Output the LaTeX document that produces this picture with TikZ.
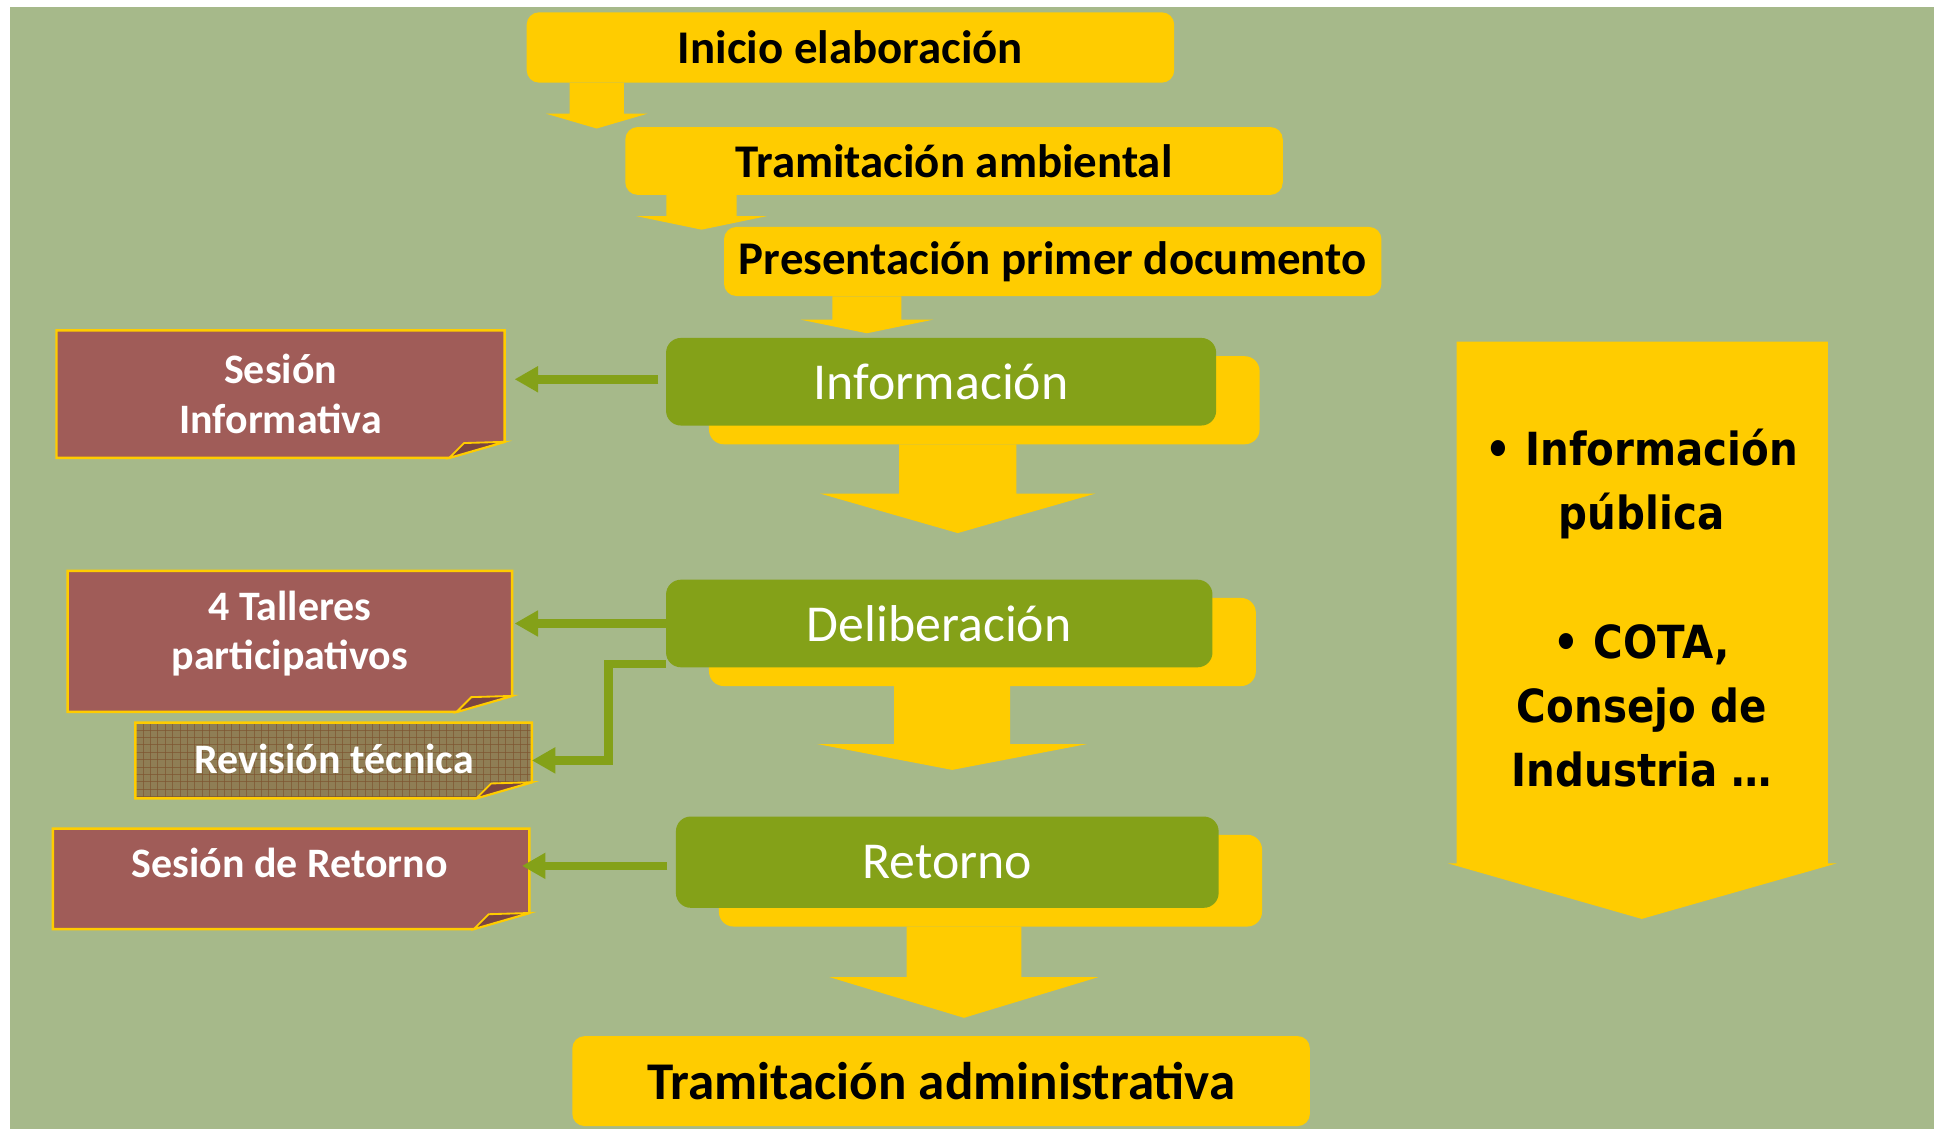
\documentclass[tikz,border=0pt]{standalone}
\usepackage{fontspec}
\setmainfont{Carlito}
\newfontfamily\dvs[FakeStretch=0.885]{DejaVu Sans}
\usetikzlibrary{arrows.meta,calc}
\definecolor{bggreen}{HTML}{A6B98A}
\definecolor{myyellow}{HTML}{FFCC00}
\definecolor{mygreen}{HTML}{84A118}
\definecolor{maroon}{HTML}{A05C58}
\definecolor{folddark}{HTML}{7B4541}
\definecolor{revfill}{HTML}{8F7E55}
\definecolor{revgrid}{HTML}{7E5530}
\pgfdeclarelayer{back}
\pgfdeclarelayer{shad}
\pgfsetlayers{back,shad,main}
\newcommand\blockarr[5]{%
  \fill[myyellow] ($(#1)+(-#2,0)$) -- ($(#1)+(#2,0)$) -- ($(#1)+(#2,#4)$) -- ($(#1)+(#3,#4)$)
    -- ($(#1)+(0,#4+#5)$) -- ($(#1)+(-#3,#4)$) -- ($(#1)+(-#2,#4)$) -- cycle;}
\newcommand\notepath[1]{(#1.north west) -- (#1.north east) -- ([yshift=13pt]#1.south east)
    -- ([xshift=-45pt]#1.south east) -- (#1.south west) -- cycle}
\newcommand\notefold[1]{%
  \path[fill=folddark, draw=myyellow, line width=1.5pt] ([xshift=-45pt]#1.south east) -- ([xshift=-33pt,yshift=12pt]#1.south east)
    -- ([yshift=13pt]#1.south east) -- cycle;}
\begin{document}
\begin{tikzpicture}[x=1pt,y=-1pt,
  ybox/.style={fill=myyellow, rounded corners=10pt, inner sep=0pt, font=\fontsize{38}{40}\selectfont\bfseries},
  gbox/.style={fill=mygreen, rounded corners=12pt, inner sep=0pt, text=white, font=\fontsize{42}{44}\selectfont},
  notebox/.style={inner sep=0pt},
  notetext/.style={text=white, align=center, font=\fontsize{34}{40}\selectfont\bfseries},
  garrow/.style={draw=mygreen, line width=7pt, -{Triangle[length=19pt,width=20pt]}}]
\useasboundingbox (0,0) rectangle (1568,915);
\begin{pgfonlayer}{back}
\fill[white] (0,0) rectangle (1568,915);
\fill[bggreen] (8,6) rectangle (1568,915);
\end{pgfonlayer}

% top yellow boxes
\node[ybox, minimum width=525pt, minimum height=57pt] (inicio) at (689.5,38.5) {Inicio elaboración};
\node[ybox, minimum width=533pt, minimum height=55pt] (tramamb) at (773.5,130.5) {Tramitación ambiental};
\node[ybox, minimum width=533pt, minimum height=56pt] (pres) at (853.5,212) {Presentación primer documento};

% green boxes
\node[gbox, minimum width=446pt, minimum height=71pt] (info) at (763,309.5) {Información};
\node[gbox, minimum width=443pt, minimum height=71pt] (delib) at (761.5,505.5) {Deliberación};
\node[gbox, minimum width=440pt, minimum height=74pt] (ret) at (768,699) {Retorno};

\node[ybox, minimum width=598pt, minimum height=73pt, font=\fontsize{43}{45}\selectfont\bfseries] (tramadm) at (763,876.5) {Tramitación administrativa};

\begin{pgfonlayer}{shad}
\foreach \n in {info,delib,ret}{
  \fill[myyellow, rounded corners=12pt] ([shift={(35,15)}]\n.north west) rectangle ([shift={(35,15)}]\n.south east);
}
% right pentagon
\fill[myyellow] (1181,277) -- (1482,277) -- (1482,700) -- (1489,700) -- (1331,745) -- (1174,700) -- (1181,700) -- cycle;
\end{pgfonlayer}

% block arrows
\coordinate (aA) at ($(inicio.south west)+(57,0)$);
\coordinate (aB) at ($(tramamb.south west)+(62,0)$);
\coordinate (aC) at ($(pres.south west)+(116,0)$);
\coordinate (aD) at ($(info.south)+(13.5,15)$);
\coordinate (aE) at ($(delib.south)+(10.5,15)$);
\coordinate (aF) at ($(ret.south)+(13.5,15)$);
\begin{pgfonlayer}{shad}
\blockarr{aA}{22}{41}{25}{12}
\blockarr{aB}{28.5}{53}{17}{11}
\blockarr{aC}{28}{53.5}{19}{11}
\blockarr{aD}{47.5}{111.5}{40}{32}
\blockarr{aE}{47}{109.5}{47}{21}
\blockarr{aF}{46.5}{109}{41}{33}
\end{pgfonlayer}

% right text
\node[align=center, font=\dvs\bfseries\fontsize{37}{52}\selectfont] (pub) at (1331,493)
  {• Información\\pública\\[53pt]• COTA,\\Consejo de\\Industria …};

% note boxes
\node[notebox, minimum width=363pt, minimum height=103pt] (ses1) at (227.5,319.5) {};
\node[notebox, minimum width=360pt, minimum height=114pt] (tall) at (235,520) {};
\node[notebox, minimum width=321pt, minimum height=61pt] (rev) at (270.5,616.5) {};
\node[notebox, minimum width=386pt, minimum height=81pt] (ses3) at (236,712.5) {};
\foreach \n in {ses1,tall,ses3}{
  \path[fill=maroon, draw=myyellow, line width=2pt] \notepath{\n};
  \notefold{\n}
}
\fill[revfill] \notepath{rev};
\begin{scope}
\clip \notepath{rev};
\foreach \i in {0,6,...,330} {\draw[revgrid, line width=0.5pt, opacity=0.7] ($(rev.north west)+(\i,0)$) -- ($(rev.south west)+(\i,0)$);}
\foreach \j in {0,6,...,63} {\draw[revgrid, line width=0.5pt, opacity=0.7] ($(rev.north west)+(0,\j)$) -- ($(rev.north east)+(0,\j)$);}
\end{scope}
\draw[myyellow, line width=2pt] \notepath{rev};
\notefold{rev}

\node[notetext] (ses1t) at (ses1.center) {Sesión\\Informativa};
\node[notetext] (tallt) at (235,513.5) {4 Talleres\\participativos};
\node[notetext] (revt) at (271,615) {Revisión técnica};
\node[notetext] (ses3t) at (235,700) {Sesión de Retorno};

% green connectors
\draw[garrow, shorten >=14pt] ([xshift=-6pt,yshift=2pt]info.west) -- ([xshift=-6pt,yshift=2pt]info.west -| ses1.east);
\draw[garrow, shorten >=2pt] (delib.west) -- (delib.west -| tall.east);
\coordinate (elb) at ($(delib.south west)+(-46.5,-3)$);
\draw[garrow] ([yshift=3pt]delib.south west) -- (elb) |- (rev.east);
\draw[garrow, shorten >=1pt] ([xshift=-7pt,yshift=-3pt]ret.west) -- ([xshift=-7pt,yshift=-3pt]ret.west -| ses3.east);
\end{tikzpicture}
\end{document}
